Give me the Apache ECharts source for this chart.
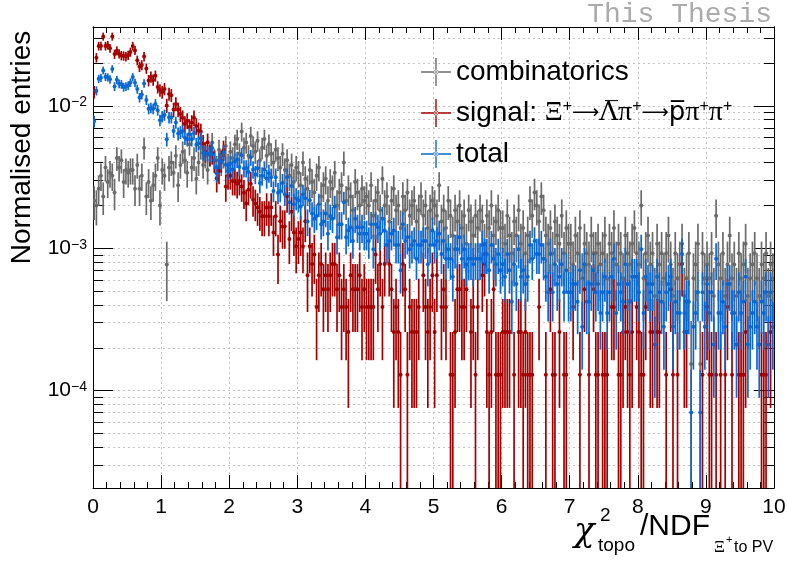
<!DOCTYPE html>
<html lang="en">
<head>
<meta charset="UTF-8">
<title>chi2 topo / NDF</title>
<script src="https://cdn.jsdelivr.net/npm/echarts@6/dist/echarts.min.js"></script>
<style>
    html, body { margin: 0; padding: 0; background: #fff; }
    #main { width: 787px; height: 561px; }
</style>
</head>
<body>
<div id="main"></div>
<script>
// histogram binning
var xMin = 0, xMax = 10, nBins = 300;
// y range (log10 of normalised entries)
var yMinLog = -4.684, yMaxLog = -1.446;
// total entries of each sample (normalisation)
var sigEntries = 7750;
var combEntries = 6500;

// raw entries per bin, 30 bins per unit of x
var sigCounts = [
    97,169,204,204,238,204,207,197,238,179,189,180,175,174,172,176,185,204,190,162,146,150,172,142,117,124,118,126,105,100,
    97,102,78,94,92,73,80,73,68,64,58,61,55,59,64,56,52,51,42,37,43,35,36,32,24,27,32,38,21,25,
    25,23,23,22,23,21,19,16,20,22,17,16,15,14,13,13,15,13,15,10,13,7,12,11,11,18,9,14,10,8,
    9,10,8,12,5,8,6,7,3,5,6,4,5,4,5,6,6,4,5,3,4,3,2,5,4,4,4,5,3,4,
    3,3,3,3,7,4,6,3,6,0,6,4,2,3,2,1,6,4,1,3,2,2,2,3,0,5,3,2,3,5,
    2,5,0,3,4,3,0,1,1,2,4,4,3,3,4,0,2,3,1,3,0,5,6,2,1,2,4,1,1,1,
    2,2,2,2,0,1,0,2,2,1,2,1,1,1,0,0,3,0,0,1,0,4,1,1,0,2,0,1,1,0,
    0,3,0,0,1,0,4,0,1,0,4,1,1,0,1,1,1,0,3,3,0,1,1,2,3,2,1,2,0,3,
    2,1,1,3,0,2,2,0,2,2,0,0,1,0,4,1,0,1,0,6,2,2,0,0,0,0,0,0,1,0,
    3,1,1,0,1,0,1,0,1,3,0,1,0,0,1,1,1,2,0,0,0,0,0,0,1,1,1,0,2,0
];
var combCounts = [
    14,13,17,21,15,24,19,22,21,16,28,24,27,19,23,22,23,23,17,25,17,21,33,15,19,14,18,21,28,13,
    23,21,5,24,26,22,29,18,25,31,27,22,35,24,28,20,26,33,25,29,23,30,36,27,24,32,26,29,34,25,
    31,28,35,38,30,43,33,36,29,40,34,31,37,27,33,38,29,35,30,26,32,28,24,30,23,27,21,25,19,24,
    22,18,26,20,17,23,19,16,21,24,15,18,20,14,19,17,22,13,16,18,26,14,17,15,12,19,16,13,17,14,
    15,13,18,11,14,16,12,20,13,15,10,14,17,12,13,9,15,12,16,11,13,14,10,12,15,11,13,9,12,14,
    13,11,18,10,12,9,14,11,8,12,10,13,9,11,7,12,10,8,11,9,12,10,7,11,9,13,8,10,12,9,
    9,7,11,8,6,10,8,12,7,9,6,8,14,11,16,13,10,15,12,8,7,9,6,10,8,7,11,6,9,7,
    7,5,8,6,9,4,7,6,5,8,6,6,7,5,6,8,4,7,6,9,5,7,6,4,8,6,5,7,9,6,
    5,13,4,6,8,5,6,3,7,5,6,4,6,8,5,3,6,4,5,7,3,4,6,1,4,5,7,1,6,4,
    5,4,6,3,11,5,4,6,3,5,8,4,5,3,6,4,5,7,3,4,5,6,4,3,5,4,6,3,5,4
];
// total = both samples added together
var totalCounts = sigCounts.map(function (s, i) { return s + combCounts[i]; });
var totalEntries = sigEntries + combEntries;

var seriesNames = ['combinatorics', 'signal', 'total'];
var seriesColors = ['#6b6b6b', '#a50000', '#0a68d4'];

// y ticks: decades with minor ticks 2..9
var yDecades = [-5, -4, -3, -2];
var yLabelDecades = [-4, -3, -2];

var binW = (xMax - xMin) / nBins;
var yMajor = [], yMinor = [];
yDecades.forEach(function (d) {
    yMajor.push(d);
    for (var k = 2; k <= 9; k++) yMinor.push(d + Math.log10(k));
});
yMajor = yMajor.filter(function (v) { return v >= yMinLog && v <= yMaxLog; });
var yAll = yMajor.concat(yMinor).filter(function (v) { return v >= yMinLog && v <= yMaxLog; });

function histPoints(counts, entries) {
    var pts = [];
    counts.forEach(function (n, i) {
        if (n <= 0) return;
        var e = Math.sqrt(n);
        var lo = n - e > 0 ? Math.log10((n - e) / entries) : yMinLog - 1;
        pts.push([xMin + (i + 0.5) * binW, Math.log10(n / entries), lo, Math.log10((n + e) / entries)]);
    });
    return pts;
}

function histSeries(name, color, counts, entries) {
    return {
        type: 'custom',
        name: name,
        clip: true,
        itemStyle: { color: color },
        encode: { x: 0, y: 1 },
        data: histPoints(counts, entries),
        renderItem: function (params, api) {
            var x = api.value(0), y = api.value(1);
            var c = api.coord([x, y]);
            var lo = api.coord([x, api.value(2)]);
            var hi = api.coord([x, api.value(3)]);
            var xl = api.coord([x - binW / 2, y])[0];
            var xr = api.coord([x + binW / 2, y])[0];
            return {
                type: 'group',
                children: [
                    { type: 'line', shape: { x1: c[0], y1: lo[1], x2: c[0], y2: hi[1] }, style: { stroke: color, lineWidth: 1.7 } },
                    { type: 'line', shape: { x1: xl, y1: c[1], x2: xr, y2: c[1] }, style: { stroke: color, lineWidth: 1.7 } },
                    { type: 'circle', shape: { cx: c[0], cy: c[1], r: 2 }, style: { fill: color } }
                ]
            };
        }
    };
}

var crossIcon = 'path://M0,13.3H30V14.7H0Z M14.3,0H15.7V28H14.3Z M12.8,14A2.2,2.2,0,1,0,17.2,14A2.2,2.2,0,1,0,12.8,14Z';
var legendLabels = {
    combinatorics: 'combinatorics',
    signal: 'signal: {g|\u039e}{p|+}{ar|\u27f6}{ov|\u039b\u0305}{g|\u03c0}{p|+}{ar|\u27f6}{ps|p\u0305}{g|\u03c0}{p|+}{g|\u03c0}{p|+}',
    total: 'total'
};

var font = 'Liberation Sans';
var gridDots = { color: '#c4c4c4', width: 1, type: [2, 3] };

function yAxisDef(pos, ticks, len, withLabels, withGrid) {
    return {
        type: 'value', gridIndex: 0, position: pos,
        min: yMinLog, max: yMaxLog,
        axisLine: { show: true, lineStyle: { color: '#000', width: 1 } },
        axisTick: { show: true, inside: true, length: len, customValues: ticks, lineStyle: { color: '#000', width: 1 } },
        axisLabel: withLabels ? {
            show: true, margin: 6, customValues: yLabelDecades, fontFamily: font,
            formatter: function (v) { return '{b|10}{s|\u2212' + Math.round(-v) + '}'; },
            rich: {
                b: { fontSize: 21, fontFamily: font, color: '#000' },
                s: { fontSize: 14, fontFamily: font, color: '#000', verticalAlign: 'top', lineHeight: 12 }
            }
        } : { show: false },
        splitLine: withGrid ? { show: true, lineStyle: gridDots } : { show: false },
        minorSplitLine: { show: false }
    };
}

function xAxisDef(pos, withLabels) {
    return {
        type: 'value', gridIndex: 0, position: pos,
        min: xMin, max: xMax, interval: 1,
        axisLine: { show: true, onZero: false, lineStyle: { color: '#000', width: 1 } },
        axisTick: { show: true, inside: true, length: 13, lineStyle: { color: '#000', width: 1 } },
        minorTick: { show: true, splitNumber: 5, length: 6, lineStyle: { color: '#000', width: 1 } },
        axisLabel: withLabels ? { show: true, margin: 9, fontSize: 21, fontFamily: font, color: '#000' } : { show: false },
        splitLine: withLabels ? { show: true, lineStyle: gridDots } : { show: false },
        minorSplitLine: { show: false }
    };
}

var chart = echarts.init(document.getElementById('main'));
var yAx0 = yAxisDef('left', yMajor, 20, true, false);
yAx0.name = 'Normalised entries';
yAx0.nameLocation = 'middle';
yAx0.nameGap = 52;
yAx0.nameRotate = 90;
yAx0.nameTextStyle = { fontSize: 28, fontFamily: font, color: '#000', padding: [0, 0, 0, 220] };

var option = {
    animation: false,
    backgroundColor: '#fff',
    grid: { left: 93, right: 13, top: 27, bottom: 73, containLabel: false, outerBoundsMode: 'none' },
    xAxis: [xAxisDef('bottom', true), xAxisDef('top', false)],
    yAxis: [
        yAx0,
        yAxisDef('left', yAll, 10, false, true),
        yAxisDef('right', yMajor, 20, false, false),
        yAxisDef('right', yAll, 10, false, false)
    ],
    legend: {
        orient: 'vertical', left: 416, top: 53,
        itemGap: 13, itemWidth: 30, itemHeight: 28, itemTextGap: 3,
        selectedMode: false,
        data: seriesNames.map(function (n) { return { name: n, icon: crossIcon }; }),
        formatter: function (name) { return legendLabels[name]; },
        textStyle: {
            fontFamily: font, fontSize: 28, color: '#000', lineHeight: 28,
            rich: {
                g: { fontFamily: 'Liberation Serif', fontSize: 28, color: '#000' },
                ar: { fontFamily: 'DejaVu Sans', fontSize: 19, color: '#000' },
                ov: { fontFamily: 'DejaVu Serif', fontSize: 26, color: '#000' },
                ps: { fontFamily: 'DejaVu Sans', fontSize: 26, color: '#000' },
                p: { fontFamily: font, fontSize: 16, color: '#000', verticalAlign: 'top', lineHeight: 14 }
            }
        }
    },
    graphic: [
        { type: 'text', right: 15, top: 1, style: { text: 'This Thesis', font: '28px "Liberation Mono"', fill: '#aaaaaa' } },
        { type: 'text', x: 574, y: 532, style: { text: '\u03c7', font: 'italic 34px "DejaVu Serif"', fill: '#000', verticalAlign: 'middle' } },
        { type: 'text', x: 600, y: 516, style: { text: '2', font: '19px "Liberation Sans"', fill: '#000', verticalAlign: 'middle' } },
        { type: 'text', x: 598, y: 546, style: { text: 'topo', font: '19px "Liberation Sans"', fill: '#000', verticalAlign: 'middle' } },
        { type: 'text', x: 640, y: 527, style: { text: '/NDF', font: '30px "Liberation Sans"', fill: '#000', verticalAlign: 'middle' } },
        { type: 'text', x: 714, y: 548, style: { text: '\u039e', font: '17px "Liberation Serif"', fill: '#000', verticalAlign: 'middle' } },
        { type: 'text', x: 726, y: 540, style: { text: '+', font: '11px "Liberation Sans"', fill: '#000', verticalAlign: 'middle' } },
        { type: 'text', x: 734, y: 548, style: { text: 'to PV', font: '16px "Liberation Sans"', fill: '#000', verticalAlign: 'middle' } }
    ],
    series: [
        histSeries(seriesNames[0], seriesColors[0], combCounts, combEntries),
        histSeries(seriesNames[1], seriesColors[1], sigCounts, sigEntries),
        histSeries(seriesNames[2], seriesColors[2], totalCounts, totalEntries)
    ]
};
chart.setOption(option);
</script>
</body>
</html>
